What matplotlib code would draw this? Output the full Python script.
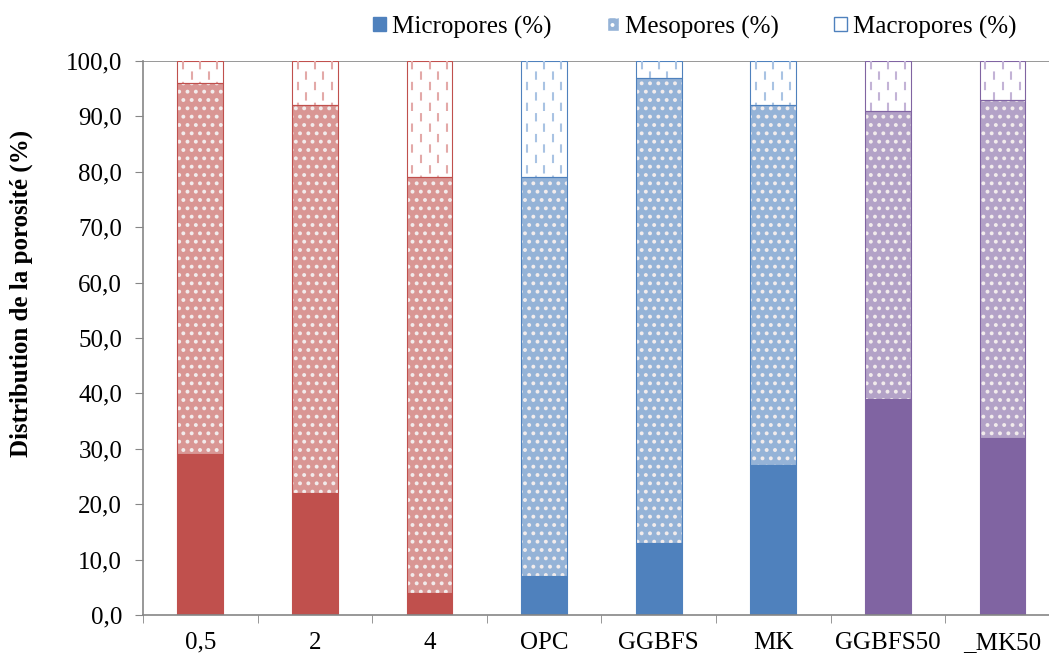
import matplotlib.pyplot as plt
import matplotlib.patches as mpatches
from matplotlib.ticker import FuncFormatter, FixedLocator
import numpy as np

plt.rcParams['font.family'] = ['Liberation Serif', 'DejaVu Serif']
plt.rcParams['hatch.linewidth'] = 1.6

categories = ['0,5', '2', '4', 'OPC', 'GGBFS', 'MK', 'GGBFS50', '_MK50']
micro = [29, 22, 4, 7, 13, 27, 39, 32]
meso = [67, 70, 75, 72, 84, 65, 52, 61]
macro = [4, 8, 21, 21, 3, 8, 9, 7]

# solid, light (meso), dash colour per group
red = ('#C0504D', '#D99694', '#E3A9A8')
blue = ('#4F81BD', '#95B3D7', '#A9C3E3')
purple = ('#8064A2', '#B3A2C7', '#C3B3D6')
palette = [red, red, red, blue, blue, blue, purple, purple]

fig = plt.figure(figsize=(10.49, 6.57), dpi=100)
ax = fig.add_axes([143 / 1049, 1 - 615 / 657, 8 * 114.6 / 1049, (615 - 61) / 657])

x = np.arange(len(categories))
w = 0.4

for i in range(len(categories)):
    dark, light, dash = palette[i]
    # micropores
    ax.bar(x[i], micro[i], w, color=dark, edgecolor=dark, linewidth=0.8, zorder=2)
    # mesopores: light fill with white dots
    ax.bar(x[i], meso[i], w, bottom=micro[i], color=light, edgecolor='#F2ECEC',
           hatch='..', linewidth=0, zorder=2)
    ax.bar(x[i], meso[i], w, bottom=micro[i], fill=False, edgecolor=dark,
           linewidth=0.8, zorder=3)
    # macropores: white with staggered dashed vertical strokes
    bot = micro[i] + meso[i]
    outline = ax.bar(x[i], macro[i], w, bottom=bot, color='white',
                     edgecolor=dark, linewidth=0.8, zorder=2)[0]
    xs = np.linspace(x[i] - w / 2 + 0.05, x[i] + w / 2 - 0.05, 5)
    for k, xv in enumerate(xs):
        ln, = ax.plot([xv, xv], [100, bot], color=dash, linewidth=1.5, zorder=2.5)
        ln.set_linestyle((5 if k % 2 else 0, (4, 6)))
        ln.set_clip_path(outline)

ax.set_xlim(-0.5, len(categories) - 0.5)
ax.set_ylim(0, 100)
ax.set_yticks(np.arange(0, 101, 10))
ax.yaxis.set_major_formatter(FuncFormatter(lambda v, p: f'{v:.1f}'.replace('.', ',')))
ax.set_xticks(x)
ax.set_xticklabels(categories)
ax.xaxis.set_minor_locator(FixedLocator(np.arange(-0.5, len(categories), 1)))
ax.tick_params(axis='x', which='major', length=0, pad=12, labelsize=18)
ax.tick_params(axis='x', which='minor', length=6, color='#868686')
ax.tick_params(axis='y', length=6, color='#868686', labelsize=18, pad=9)

ax.axhline(100, color='#868686', linewidth=1.2, zorder=1)
for s in ['top', 'right']:
    ax.spines[s].set_visible(False)
for s in ['left', 'bottom']:
    ax.spines[s].set_color('#868686')
    ax.spines[s].set_linewidth(1.2)

ax.set_ylabel('Distribution de la porosité (%)', fontsize=18, fontweight='bold')
ax.yaxis.set_label_coords((33 - 143) / 917, (615 - 293) / 554)

handles = [
    mpatches.Patch(facecolor=blue[0], edgecolor=blue[0], label='Micropores (%)'),
    mpatches.Patch(facecolor=blue[1], edgecolor='white', hatch='..', label='Mesopores (%)'),
    mpatches.Patch(facecolor='white', edgecolor=blue[0], label='Macropores (%)'),
]
fig.legend(handles=handles, loc='center', bbox_to_anchor=(695 / 1049, 1 - 27 / 657),
           ncol=3, frameon=False, fontsize=18, handlelength=0.5, handleheight=0.5,
           handletextpad=0.25, columnspacing=2.2, borderpad=0)

fig.savefig('out.png', dpi=100)
